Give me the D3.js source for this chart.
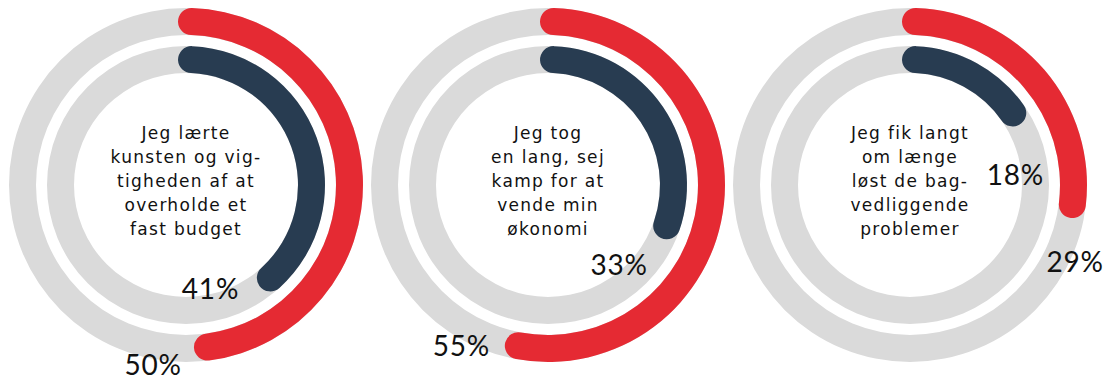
<!DOCTYPE html>
<html>
<head>
<meta charset="utf-8">
<script src="https://cdn.jsdelivr.net/npm/d3@7"></script>
<style>
  html, body { margin: 0; padding: 0; background: #ffffff; }
  #chart { width: 1108px; height: 380px; }
</style>
</head>
<body>
<div id="chart"></div>
<script>
// data
const questions = [
    ["Jeg lærte", "kunsten og vig-", "tigheden af at", "overholde et", "fast budget"],
    ["Jeg tog", "en lang, sej", "kamp for at", "vende min", "økonomi"],
    ["Jeg fik langt", "om længe", "løst de bag-", "vedliggende", "problemer"]
];
const outerValues = [50, 55, 29];   // red ring
const innerValues = [41, 33, 18];   // navy ring

const width = 1108, height = 380;
const cy = 185;

const svg = d3.select("#chart").append("svg")
    .attr("width", width)
    .attr("height", height);

const x = d3.scalePoint()
    .domain(d3.range(questions.length))
    .range([186, 910]);

const angle = d3.scaleLinear()
    .domain([0, 100])
    .range([0, 2 * Math.PI]);

const rings = [
    { values: outerValues, inner: 150, outer: 177, color: "#e52a33", labelR: 182 },
    { values: innerValues, inner: 112, outer: 139, color: "#283c51", labelR: 106 }
];

const groups = svg.selectAll("g.donut")
    .data(questions)
    .enter()
    .append("g")
    .attr("class", "donut")
    .attr("transform", (d, i) => `translate(${x(i)},${cy})`);

rings.forEach(ring => {
    const mid = (ring.inner + ring.outer) / 2;
    const shift = -8 / mid;   // arcs start a touch left of 12 o'clock

    const track = d3.arc()
        .innerRadius(ring.inner)
        .outerRadius(ring.outer)
        .startAngle(0)
        .endAngle(2 * Math.PI);

    const arc = d3.arc()
        .innerRadius(ring.inner)
        .outerRadius(ring.outer)
        .cornerRadius((ring.outer - ring.inner) / 2);

    groups.append("path")
        .attr("d", track())
        .attr("fill", "#dadada");

    groups.append("path")
        .attr("d", (d, i) => arc({
            startAngle: shift,
            endAngle: shift + angle(ring.values[i])
        }))
        .attr("fill", ring.color);

    // percentage label just past the end of the arc
    const labelAngle = i => shift + angle(ring.values[i]) + 42 / ring.labelR;
    groups.append("text")
        .attr("x", (d, i) => ring.labelR * Math.sin(labelAngle(i)))
        .attr("y", (d, i) => -ring.labelR * Math.cos(labelAngle(i)))
        .attr("text-anchor", "middle")
        .attr("dominant-baseline", "central")
        .style("font-family", "Lato, sans-serif")
        .style("font-size", "28px")
        .style("letter-spacing", "0.8px")
        .style("fill", "#111111")
        .text((d, i) => ring.values[i] + "%");
});

// centre text
groups.each(function(lines) {
    const t = d3.select(this).append("text")
        .attr("text-anchor", "middle")
        .style("font-family", "'DejaVu Sans', sans-serif")
        .style("font-size", "17px")
        .style("letter-spacing", "1.3px")
        .style("fill", "#111111");
    const lh = 24;
    const top = -((lines.length - 1) * lh) / 2 + 2;
    lines.forEach((line, k) => {
        t.append("tspan")
            .attr("x", 0)
            .attr("y", top + k * lh)
            .text(line);
    });
});
</script>
</body>
</html>
